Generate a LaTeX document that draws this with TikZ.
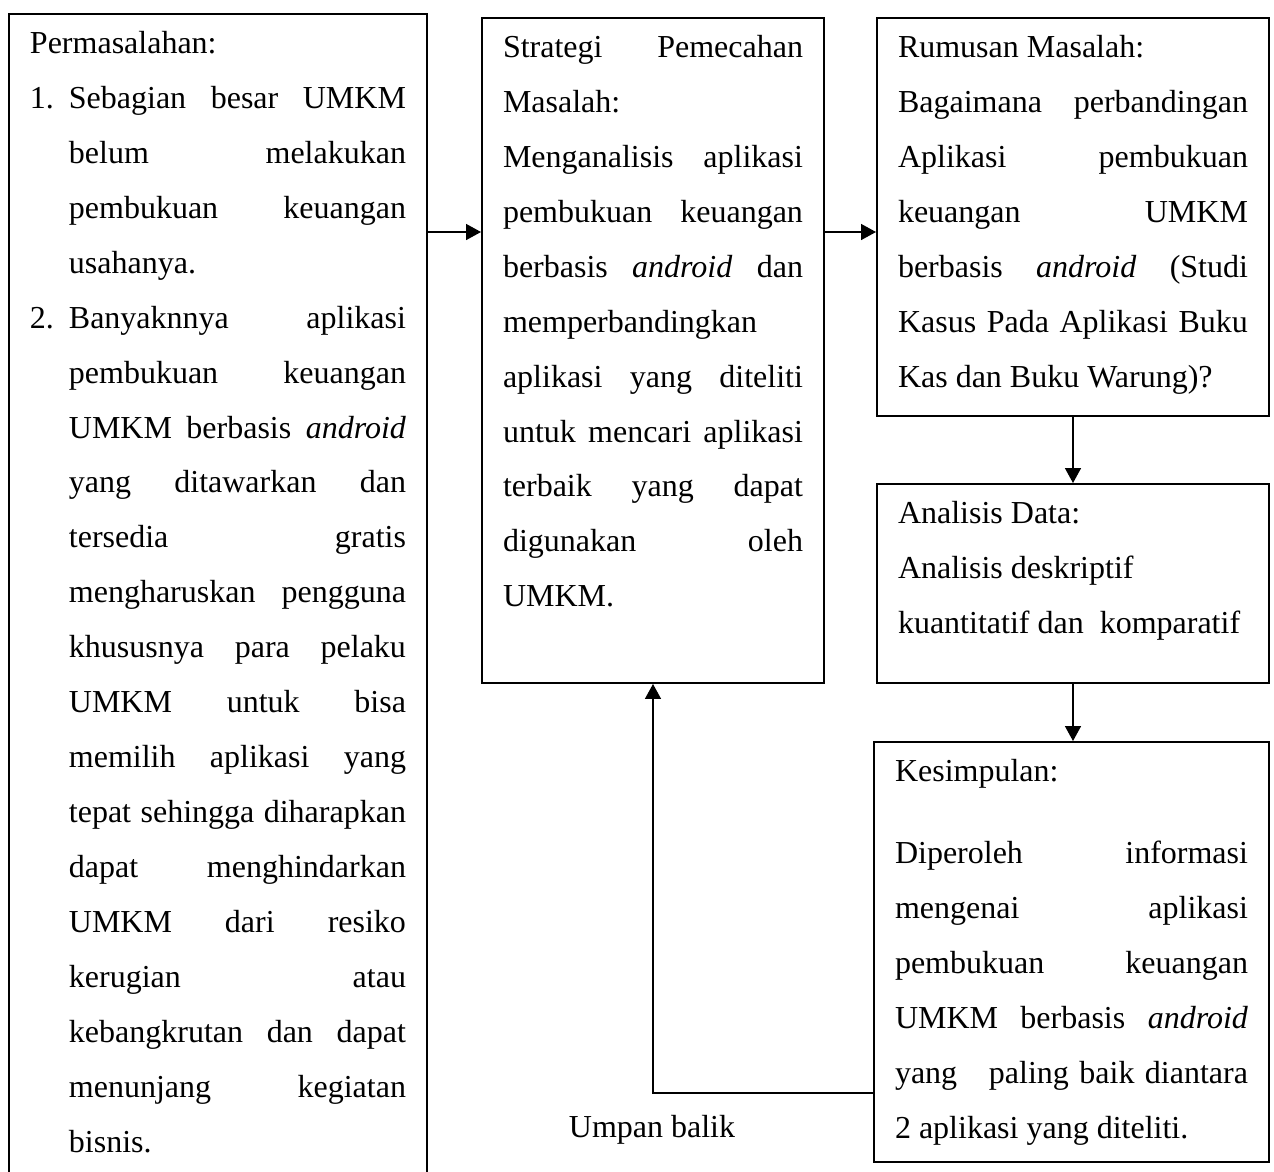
\documentclass[tikz,border=0pt]{standalone}
\usepackage{fontspec}
\setmainfont{Liberation Serif}
\usetikzlibrary{arrows.meta, positioning}
\newcommand{\stagebody}[3]{\parbox[c][#2][t]{#1}{\sloppy\rule{0pt}{14.8pt}#3}}

\begin{document}
\begin{tikzpicture}[x=0.375pt, y=-0.375pt,
    font=\fontsize{12}{20.6}\selectfont,
    stage/.style={draw, line width=0.75pt, inner xsep=7.875pt, inner ysep=0pt, anchor=north west},
    flow/.style={-{Triangle[length=5.6pt, width=6pt]}, line width=0.5pt}]
    \clip (0,0) rectangle (1274,1172);

    % Permasalahan
    \node[stage] (problem) at (8,13) {\stagebody{141pt}{437.6pt}{%
        Permasalahan:\par
        \hangindent=14.6pt \hangafter=1
        \makebox[14.6pt][l]{1.}Sebagian besar UMKM\linebreak belum melakukan\linebreak
        pembukuan keuangan\linebreak usahanya.\par
        \hangindent=14.6pt \hangafter=1
        \makebox[14.6pt][l]{2.}Banyaknnya aplikasi\linebreak pembukuan keuangan\linebreak
        UMKM berbasis \textit{android}\linebreak yang ditawarkan dan\linebreak
        tersedia gratis\linebreak mengharuskan pengguna\linebreak
        khususnya para pelaku\linebreak UMKM untuk bisa\linebreak
        memilih aplikasi yang\linebreak tepat sehingga diharapkan\linebreak
        dapat menghindarkan\linebreak UMKM dari resiko\linebreak
        kerugian atau\linebreak kebangkrutan dan dapat\linebreak
        menunjang kegiatan\linebreak bisnis.}};

    % Strategi
    \node[stage] (strategy) at (481,17) {\stagebody{112.5pt}{249.375pt}{%
        Strategi Pemecahan\linebreak Masalah:\par
        Menganalisis aplikasi\linebreak pembukuan keuangan\linebreak
        berbasis \textit{android} dan\linebreak memperbandingkan\linebreak
        aplikasi yang diteliti\linebreak untuk mencari aplikasi\linebreak
        terbaik yang dapat\linebreak digunakan oleh\linebreak UMKM.}};

    % Rumusan masalah
    \node[stage] (question) at (876,17) {\stagebody{131.25pt}{149.25pt}{%
        Rumusan Masalah:\par
        Bagaimana perbandingan\linebreak Aplikasi pembukuan\linebreak
        keuangan UMKM\linebreak berbasis \textit{android} (Studi\linebreak
        Kasus Pada Aplikasi Buku\linebreak Kas dan Buku Warung)?}};

    % Analisis data
    \node[stage] (analysis) at (876,483) {\stagebody{131.25pt}{74.625pt}{%
        Analisis Data:\par
        Analisis deskriptif\par
        kuantitatif dan\ \ komparatif}};

    % Kesimpulan
    \node[stage] (conclusion) at (873,741) {\stagebody{132.375pt}{157.5pt}{%
        Kesimpulan:\par\vspace{10.1pt}
        Diperoleh informasi\linebreak mengenai aplikasi\linebreak
        pembukuan keuangan\linebreak UMKM berbasis \textit{android}\linebreak
        yang\hspace{8pt} paling baik diantara\linebreak 2 aplikasi yang diteliti.}};

    % Alur
    \coordinate (upper) at (0,232);
    \coordinate (back) at (0,1093);
    \draw[flow] (problem.east |- upper) -- (strategy.west |- upper);
    \draw[flow] (strategy.east |- upper) -- (question.west |- upper);
    \draw[flow] (question.south) -- (analysis.north);
    \draw[flow] (analysis.south) -- (analysis.south |- conclusion.north);
    \draw[flow] (conclusion.west |- back) -| (strategy.south);
    \node[anchor=base] (backlabel) at (652,1137) {Umpan balik};
\end{tikzpicture}
\end{document}
